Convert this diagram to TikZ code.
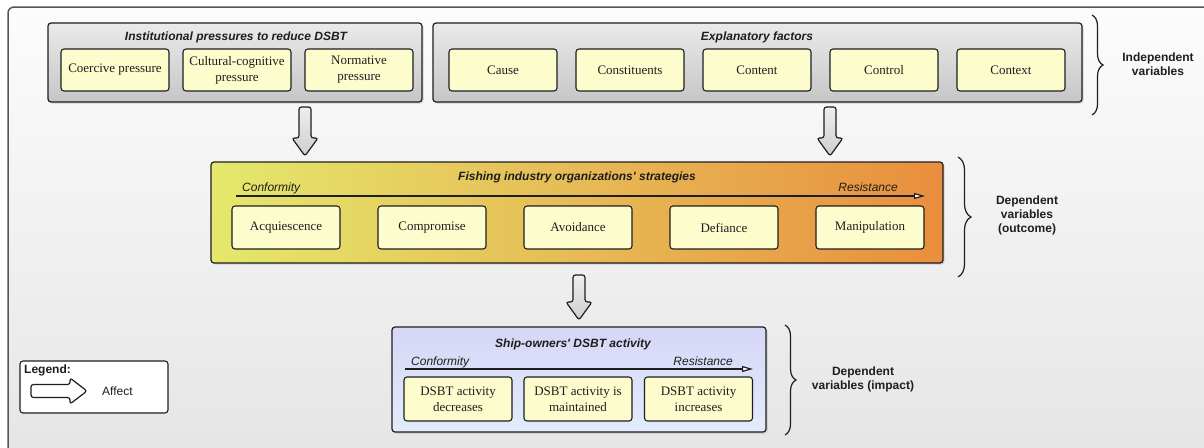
\documentclass[tikz,border=0pt]{standalone}
\usepackage{fontspec}
\setmainfont{Liberation Serif}
\setsansfont{Liberation Sans}
\usetikzlibrary{shadows,decorations.pathreplacing,calc,arrows.meta}

\definecolor{bgTop}{RGB}{252,252,252}
\definecolor{bgBot}{RGB}{228,228,228}
\definecolor{frameC}{RGB}{85,85,85}
\definecolor{ink}{RGB}{30,30,30}
\definecolor{grpTop}{RGB}{234,234,234}
\definecolor{grpBot}{RGB}{198,198,198}
\definecolor{itemFill}{RGB}{253,252,204}
\definecolor{fishL}{RGB}{228,232,108}
\definecolor{fishR}{RGB}{233,142,62}
\definecolor{shipTop}{RGB}{214,214,246}
\definecolor{shipBot}{RGB}{226,236,252}
\definecolor{arrTop}{RGB}{238,238,238}
\definecolor{arrBot}{RGB}{206,206,206}

% downward block arrow from #1 (tail) to #2 (tip)
\newcommand\affectdown[2]{%
  \draw[affect] let \p1=(#1), \p2=(#2) in
    (\x1-6pt,\y1) -- (\x1-6pt,\y2+18pt) -- (\x1-13pt,\y2+18pt) -- (\x1,\y2)
    -- (\x1+13pt,\y2+18pt) -- (\x1+6pt,\y2+18pt) -- (\x1+6pt,\y1) -- cycle;}

\begin{document}
\begin{tikzpicture}[x=1pt,y=-1pt,
  groupbox/.style={draw=ink, line width=1.2pt, rounded corners=3pt,
    top color=grpTop, bottom color=grpBot,
    drop shadow={shadow xshift=1.5pt, shadow yshift=-1.5pt, opacity=0.3}},
  item/.style={draw=ink, line width=1.1pt, rounded corners=3pt, fill=itemFill,
    minimum width=108pt, minimum height=42pt, inner sep=2pt, align=center,
    text=ink, font=\fontsize{13}{16}\selectfont},
  grptitle/.style={text=ink, font=\sffamily\bfseries\itshape\fontsize{12}{14}\selectfont},
  scalelabel/.style={text=ink, font=\sffamily\itshape\fontsize{12}{14}\selectfont, inner sep=0pt},
  scaleline/.style={draw=ink, line width=1.2pt,
    -{Triangle[open, fill=white, length=11pt, width=6pt]}},
  varlabel/.style={text=ink, align=center, font=\sffamily\bfseries\fontsize{12}{14}\selectfont},
  bracec/.style={draw=ink, line width=1.2pt, decorate,
    decoration={brace, amplitude=11pt}},
  affect/.style={draw=ink, line width=1.2pt, rounded corners=2.5pt,
    top color=arrTop, bottom color=arrBot},
]
\path[use as bounding box] (0,0) rectangle (1204,447);

% canvas frame with a soft vertical gradient
\begin{scope}
  \clip (0,0) rectangle (1204,447);
  \draw[frameC, line width=1.5pt, rounded corners=6pt, top color=bgTop, bottom color=bgBot]
    (8,7) rectangle (1240,480);
\end{scope}

% ---------- independent variables ----------
\node[groupbox, minimum width=374pt, minimum height=79pt] (inst) at (235,62.5) {};
\node[grptitle] (instT) at (236,37) {Institutional pressures to reduce DSBT};
\node[item] (coer) at (115,70) {Coercive pressure};
\node[item] (cult) at (237,70) {Cultural-cognitive\\pressure};
\node[item] (norm) at (359,70) {Normative\\pressure};

\node[groupbox, minimum width=649pt, minimum height=79pt] (expl) at (757.5,62.5) {};
\node[grptitle] (explT) at (757,37) {Explanatory factors};
\node[item] (cause) at (503,70) {Cause};
\node[item] (const) at (630,70) {Constituents};
\node[item] (cont) at (757,70) {Content};
\node[item] (ctrl) at (884,70) {Control};
\node[item] (ctx) at (1011,70) {Context};

\draw[bracec] (1092,15) -- (1092,115);
\node[varlabel] (iv) at (1158,64) {Independent\\variables};

% ---------- organisations' strategies ----------
\node[draw=ink, line width=1.2pt, rounded corners=3pt, left color=fishL, right color=fishR,
  drop shadow={shadow xshift=1.5pt, shadow yshift=-1.5pt, opacity=0.3},
  minimum width=732pt, minimum height=101pt] (fish) at (577,212.5) {};
\node[grptitle] (fishT) at (577,177) {Fishing industry organizations\textquotesingle{} strategies};
\coordinate (fishL0) at (236,196);
\coordinate (fishR0) at (925,196);
\draw[scaleline] (fishL0) -- (fishR0);
\node[scalelabel, anchor=base west] (fishConf) at (242,191.5) {Conformity};
\node[scalelabel, anchor=base east] (fishRes) at (898,191.5) {Resistance};
\node[item, minimum height=43pt] (acq) at (286,227.5) {Acquiescence};
\node[item, minimum height=43pt] (comp) at (432,227.5) {Compromise};
\node[item, minimum height=43pt] (avoid) at (578,227.5) {Avoidance};
\node[item, minimum height=43pt] (defi) at (724,227.5) {Defiance};
\node[item, minimum height=43pt] (mani) at (870,227.5) {Manipulation};

\draw[bracec, decoration={brace, amplitude=13pt}] (958,157) -- (958,277);
\node[varlabel] (dvo) at (1027,215) {Dependent\\variables\\(outcome)};

% ---------- ship-owners' activity ----------
\node[draw=ink, line width=1.2pt, rounded corners=3pt, top color=shipTop, bottom color=shipBot,
  drop shadow={shadow xshift=1.5pt, shadow yshift=-1.5pt, opacity=0.3},
  minimum width=374pt, minimum height=105pt] (ship) at (579,379.5) {};
\node[grptitle] (shipT) at (573,344) {Ship-owners\textquotesingle{} DSBT activity};
\coordinate (shipL0) at (405,369);
\coordinate (shipR0) at (753,369);
\draw[scaleline] (shipL0) -- (shipR0);
\node[scalelabel, anchor=base west] (shipConf) at (411,365.5) {Conformity};
\node[scalelabel, anchor=base east] (shipRes) at (733,365.5) {Resistance};
\node[item, minimum height=44pt] (dec) at (458,399) {DSBT activity\\decreases};
\node[item, minimum height=44pt] (mnt) at (578,399) {DSBT activity is\\maintained};
\node[item, minimum height=44pt] (inc) at (698.5,399) {DSBT activity\\increases};

\draw[bracec] (785,325) -- (785,435);
\node[varlabel] (dvi) at (863,379) {Dependent\\variables (impact)};

% ---------- influence arrows ----------
\coordinate (a1s) at (305,107);  \coordinate (a1e) at (305,156);
\coordinate (a2s) at (830,107);  \coordinate (a2e) at (830,156);
\coordinate (a3s) at (579,275);  \coordinate (a3e) at (579,320);
\affectdown{a1s}{a1e}
\affectdown{a2s}{a2e}
\affectdown{a3s}{a3e}

% ---------- legend ----------
\node[draw=ink, line width=1.1pt, rounded corners=3pt, fill=white,
  minimum width=148pt, minimum height=52pt] (legend) at (94,387) {};
\node[anchor=base west, inner sep=0pt, text=ink,
  font=\sffamily\bfseries\fontsize{12}{14}\selectfont] (legT) at (24,373.5) {Legend:};
\coordinate (l1) at (31,391);
\coordinate (l2) at (87,391);
\draw[affect, top color=white, bottom color=white] let \p1=(l1), \p2=(l2) in
  (\x1,\y1+6.5pt) -- (\x2-17pt,\y1+6.5pt) -- (\x2-17pt,\y1+13pt) -- (\x2,\y1)
  -- (\x2-17pt,\y1-13pt) -- (\x2-17pt,\y1-6.5pt) -- (\x1,\y1-6.5pt) -- cycle;
\node[anchor=west, inner sep=0pt, text=ink,
  font=\sffamily\fontsize{12}{14}\selectfont] (legA) at (102,391) {Affect};
\end{tikzpicture}
\end{document}
